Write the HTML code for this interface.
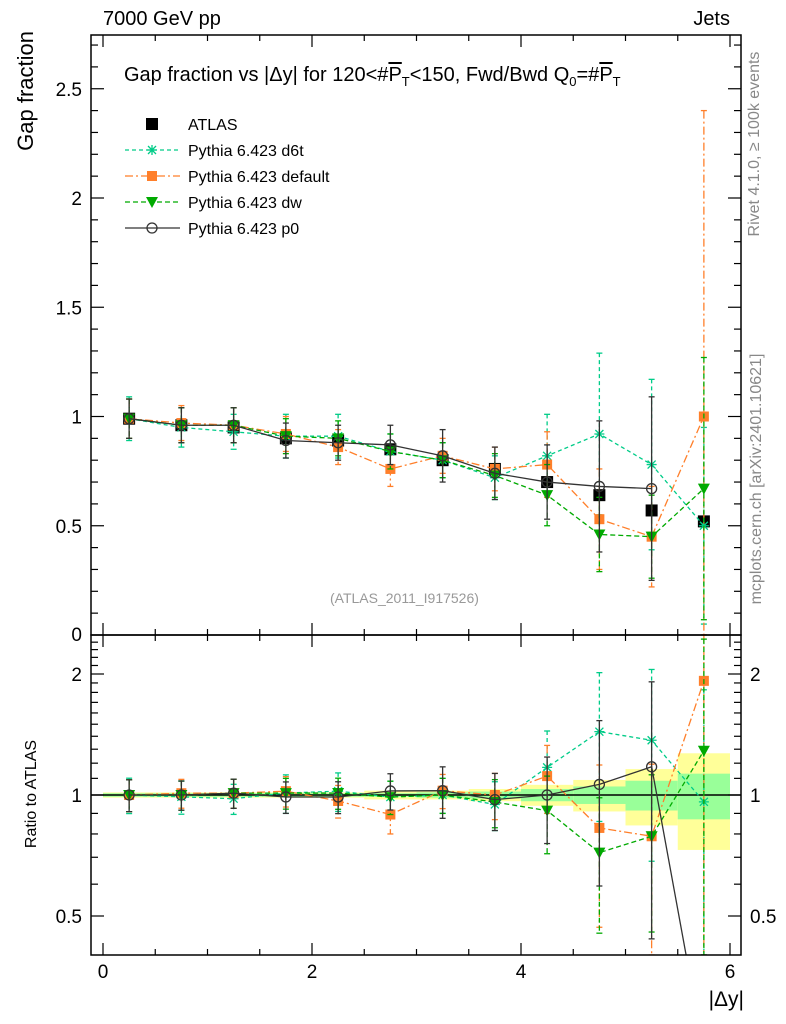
<!DOCTYPE html>
<html><head><meta charset="utf-8"><style>
html,body{margin:0;background:#fff;width:786px;height:1024px;overflow:hidden;}
svg{display:block;font-family:"Liberation Sans",sans-serif;}
</style></head><body>
<svg id="c" width="786" height="1024"></svg>
<script>
const bins=[0.25,0.75,1.25,1.75,2.25,2.75,3.25,3.75,4.25,4.75,5.25,5.75];
const atlas=[0.99,0.96,0.95,0.90,0.89,0.85,0.80,0.76,0.70,0.64,0.57,0.52];
const atlasErr=[0.01,0.01,0.01,0.01,0.01,0.015,0.015,0.02,0.025,0.03,0.04,0.05];
const bandTot=[0.015,0.015,0.015,0.015,0.015,0.025,0.025,0.035,0.06,0.09,0.16,0.27];
const bandStat=[0.01,0.01,0.01,0.01,0.01,0.01,0.015,0.02,0.035,0.05,0.085,0.13];
const d6t=[0.99,0.95,0.93,0.91,0.91,0.84,0.80,0.72,0.82,0.92,0.78,0.50];
const d6tErr=[0.1,0.09,0.08,0.1,0.1,0.08,0.08,0.1,0.19,0.37,0.39,0.45];
const def=[0.99,0.97,0.96,0.92,0.86,0.76,0.82,0.76,0.78,0.53,0.45,1.00];
const defErr=[0.09,0.08,0.08,0.08,0.08,0.08,0.08,0.1,0.15,0.23,0.23,1.4];
const dw=[0.99,0.96,0.96,0.91,0.90,0.84,0.80,0.73,0.64,0.46,0.45,0.67];
const dwErr=[0.09,0.08,0.08,0.08,0.08,0.08,0.08,0.1,0.14,0.17,0.19,0.6];
const p0=[0.99,0.96,0.96,0.89,0.88,0.87,0.82,0.74,0.70,0.68,0.67,0.0];
const p0Err=[0.09,0.08,0.08,0.08,0.08,0.09,0.12,0.12,0.17,0.3,0.42,0];
const mainTicks=["0.5","1","1.5","2","2.5"];
const ratioTicks=["0.5","1","2"];
const xTicks=["0","2","4","6"];

const NS="http://www.w3.org/2000/svg";
const svg=document.getElementById('c');
const L=91,R=741,T=35,M=635,B=955;
const RMIN=Math.pow(2,-(B-795)/121),RMAX=Math.pow(2,(795-M)/121);
const X=v=>103+104.5*v;
const Y=v=>635-218.5*Math.min(Math.max(v,0),2.75);
const YR=r=>795-121*Math.log2(Math.min(Math.max(r,RMIN),RMAX));
function el(t,a,p){const e=document.createElementNS(NS,t);for(const k in a)e.setAttribute(k,a[k]);(p||svg).appendChild(e);return e;}
function txt(s,a,p){const e=el('text',a,p);e.textContent=s;return e;}

const defs=el('defs',{});
const c1=el('clipPath',{id:'cm'},defs);el('rect',{x:L,y:T,width:R-L,height:M-T},c1);
const c2=el('clipPath',{id:'cr'},defs);el('rect',{x:L,y:M,width:R-L,height:B-M},c2);

const gb=el('g',{'clip-path':'url(#cr)'});


bins.forEach((b,i)=>{
  const r1=el('rect',{x:X(b-0.25),width:X(0.5)-X(0),y:YR(1+bandTot[i]),height:YR(1-bandTot[i])-YR(1+bandTot[i]),fill:'#ffff99'},gb);
  
  
  const r2=el('rect',{x:X(b-0.25),width:X(0.5)-X(0),y:YR(1+bandStat[i]),height:YR(1-bandStat[i])-YR(1+bandStat[i]),fill:'#99ff99'},gb);
  
  
});
el('line',{x1:L,x2:R,y1:YR(1),y2:YR(1),stroke:'#000','stroke-width':1.5});

const series=[
 {n:'d6t',v:d6t,e:d6tErr,c:'#00cc88',d:'4,3',m:'star'},
 {n:'default',v:def,e:defErr,c:'#ff7f2a',d:'8,3,2,3',m:'sq'},
 {n:'dw',v:dw,e:dwErr,c:'#00aa00',d:'5,3',m:'tri'},
 {n:'p0',v:p0,e:p0Err,c:'#333',d:'',m:'circ'}];
function marker(g,m,x,y,c){
  if(m==='sq')el('rect',{x:x-5,y:y-5,width:10,height:10,fill:c},g);
  else if(m==='tri')el('path',{d:`M${x-6},${y-5}L${x+6},${y-5}L${x},${y+6}Z`,fill:c},g);
  else if(m==='circ')el('circle',{cx:x,cy:y,r:5,fill:'none',stroke:c,'stroke-width':1.3},g);
  else if(m==='star'){el('path',{d:`M${x-5},${y}H${x+5}M${x},${y-5}V${y+5}M${x-4},${y-4}L${x+4},${y+4}M${x-4},${y+4}L${x+4},${y-4}`,stroke:c,'stroke-width':1.3},g);}
  else if(m==='atlas')el('rect',{x:x-6,y:y-6,width:12,height:12,fill:c},g);
}
function drawSeries(s,panel){
  const g=el('g',{'clip-path':panel==='main'?'url(#cm)':'url(#cr)'});
  
  
  const main=panel==='main';
  const val=i=>main?s.v[i]:s.v[i]/atlas[i];
  const yf=v=>main?Y(v):YR(v);
  let pts=[];
  for(let i=0;i<bins.length;i++){
    const v=val(i);
    if(main&&s.n==='p0'&&s.v[i]<=0)break;
    if(!main&&v<RMIN){
      if(i>0){const pv=val(i-1);const t=(pv-RMIN)/(pv-v);pts.push(X(bins[i-1]+t*(bins[i]-bins[i-1]))+','+YR(RMIN));}
      break;
    }
    pts.push(X(bins[i])+','+yf(v));
  }
  el('polyline',{points:pts.join(' '),fill:'none',stroke:s.c,'stroke-width':1.3,'stroke-dasharray':s.d},g);
  bins.forEach((b,i)=>{
    if(s.v[i]<=0)return;
    const x=X(b),sc=main?1:1/atlas[i],v=val(i),e=s.e[i]*sc;
    if(e>0){
      const y1=yf(v+e),y2=yf(Math.max(v-e,0.001));
      el('line',{x1:x,x2:x,y1:y1,y2:y2,stroke:s.c,'stroke-width':1.3,'stroke-dasharray':s.d},g);
      el('line',{x1:x-3,x2:x+3,y1:y1,y2:y1,stroke:s.c,'stroke-width':1.3},g);
      el('line',{x1:x-3,x2:x+3,y1:y2,y2:y2,stroke:s.c,'stroke-width':1.3},g);
    }
    marker(g,s.m,x,yf(v),s.c);
  });
}
const ga=el('g',{'clip-path':'url(#cm)'});


bins.forEach((b,i)=>{
  el('line',{x1:X(b),x2:X(b),y1:Y(atlas[i]+atlasErr[i]),y2:Y(atlas[i]-atlasErr[i]),stroke:'#000','stroke-width':1.3},ga);
  marker(ga,'atlas',X(b),Y(atlas[i]),'#000');
});
series.forEach(s=>{drawSeries(s,'main');drawSeries(s,'ratio');});

el('rect',{x:L,y:T,width:R-L,height:M-T,fill:'none',stroke:'#000','stroke-width':1.5});
el('rect',{x:L,y:M,width:R-L,height:B-M,fill:'none',stroke:'#000','stroke-width':1.5});

for(let v=0;v<=6.001;v+=0.5){
  const x=X(v),maj=Math.abs(v-Math.round(v/2)*2)<1e-6,len=maj?12:6;
  [[M,-1],[T,1],[B,-1],[M,1]].forEach(([y0,d])=>el('line',{x1:x,x2:x,y1:y0,y2:y0+d*len,stroke:'#000','stroke-width':1.2}));
}
xTicks.forEach(t=>{const e=txt(t,{x:X(+t),y:978,'font-size':19,'text-anchor':'middle'});});
for(let k=1;k<=27;k++){const v=k/10,y=Y(v),maj=k%5===0,len=maj?13:7;
  el('line',{x1:L,x2:L+len,y1:y,y2:y,stroke:'#000','stroke-width':1.2});
  el('line',{x1:R,x2:R-len,y1:y,y2:y,stroke:'#000','stroke-width':1.2});}
mainTicks.forEach(t=>{const e=txt(t,{x:82,y:Y(+t)+7,'font-size':19,'text-anchor':'end'});});
txt('0',{x:82,y:641,'font-size':19,'text-anchor':'end'});
[0.5,0.6,0.7,0.8,0.9,1,1.1,1.2,1.3,1.4,1.5,1.6,1.7,1.8,1.9,2,2.1,2.2,2.3,2.4].forEach(r=>{
  const y=YR(r),maj=(r===0.5||r===1||r===2),len=maj?13:7;
  el('line',{x1:L,x2:L+len,y1:y,y2:y,stroke:'#000','stroke-width':1.2});
  el('line',{x1:R,x2:R-len,y1:y,y2:y,stroke:'#000','stroke-width':1.2});});
ratioTicks.forEach(t=>{
  const a=txt(t,{x:82,y:YR(+t)+7,'font-size':19,'text-anchor':'end'});
  const b=txt(t,{x:750,y:YR(+t)+7,'font-size':19});});

const leg=[['ATLAS','#000','','atlas'],['Pythia 6.423 d6t','#00cc88','4,3','star'],['Pythia 6.423 default','#ff7f2a','8,3,2,3','sq'],['Pythia 6.423 dw','#00aa00','5,3','tri'],['Pythia 6.423 p0','#333','','circ']];
leg.forEach((l,i)=>{
  const g=el('g',{});
  
  
  const y=124+26*i;
  if(i>0)el('line',{x1:125,x2:180,y1:y,y2:y,stroke:l[1],'stroke-width':1.3,'stroke-dasharray':l[2]},g);
  marker(g,l[3],152,y,l[1]);
  txt(l[0],{x:188,y:y+6,'font-size':16},g);
});
</script>
<div style="position:absolute;left:0;top:0;width:786px;height:1024px;overflow:hidden;pointer-events:none;font-family:'Liberation Sans',sans-serif;">
<div style="position:absolute;left:103px;top:8px;font-size:20px;">7000 GeV pp</div>
<div style="position:absolute;right:56px;top:8px;font-size:20px;">Jets</div>
<div style="position:absolute;left:124px;top:64px;font-size:20px;white-space:nowrap;">Gap fraction vs |Δy| for 120&lt;#<span style="text-decoration:overline">P</span><sub style="font-size:13px">T</sub>&lt;150, Fwd/Bwd Q<sub style="font-size:13px">0</sub>=#<span style="text-decoration:overline">P</span><sub style="font-size:13px">T</sub></div>
<div style="position:absolute;left:-42px;top:86px;width:136px;font-size:22px;transform:rotate(-90deg);text-align:right;white-space:nowrap;">Gap fraction</div>
<div style="position:absolute;left:-38px;top:785px;width:140px;font-size:16px;transform:rotate(-90deg);text-align:center;white-space:nowrap;">Ratio to ATLAS</div>
<div style="position:absolute;right:42px;top:988px;font-size:21px;">|Δy|</div>
<div style="position:absolute;left:330px;top:590px;font-size:14px;color:#999;">(ATLAS_2011_I917526)</div>
<div style="position:absolute;left:645px;top:135px;width:220px;font-size:16px;color:#888;transform:rotate(-90deg);white-space:nowrap;text-align:center;">Rivet 4.1.0, ≥ 100k events</div>
<div style="position:absolute;left:597px;top:470px;width:320px;font-size:16px;color:#888;transform:rotate(-90deg);white-space:nowrap;text-align:center;">mcplots.cern.ch [arXiv:2401.10621]</div>
</div>
</body></html>
